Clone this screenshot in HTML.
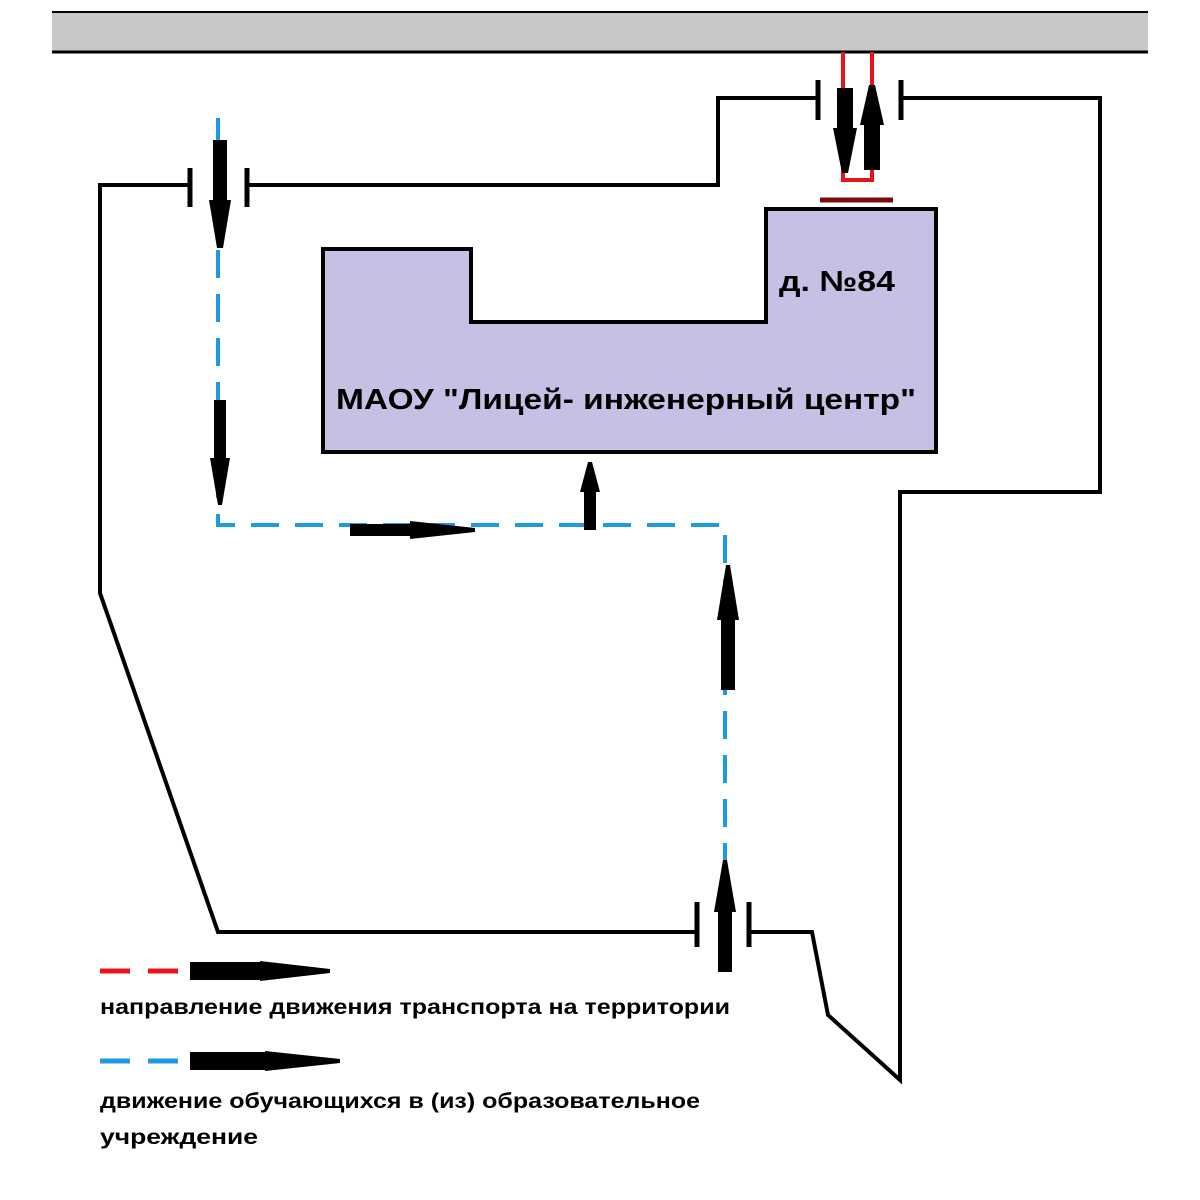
<!DOCTYPE html>
<html><head><meta charset="utf-8"><style>
html,body{margin:0;padding:0;background:#fff;}
svg{display:block;}
text{font-family:"Liberation Sans",sans-serif;font-weight:bold;fill:#000;}
</style></head><body>
<svg width="1200" height="1200" viewBox="0 0 1200 1200" xmlns="http://www.w3.org/2000/svg">
<rect x="52" y="12" width="1096" height="40" fill="#c8c8c8"/>
<line x1="52" y1="12" x2="1148" y2="12" stroke="#000" stroke-width="2"/>
<line x1="52" y1="52" x2="1148" y2="52" stroke="#000" stroke-width="3"/>

<g fill="none" stroke="#000" stroke-width="4" stroke-linejoin="miter">
<polyline points="190,185 100,185 100,593 218,932 697,932"/>
<polyline points="247,185 718,185 718,98 818,98"/>
<polyline points="900,98 1100,98 1100,492 900,492 900,1080 828,1015 812,932 750,932"/>
<line x1="190" y1="168" x2="190" y2="207" stroke-width="5"/>
<line x1="247" y1="168" x2="247" y2="207" stroke-width="5"/>
<line x1="818" y1="80" x2="818" y2="120" stroke-width="5"/>
<line x1="901" y1="80" x2="901" y2="120" stroke-width="5"/>
<line x1="697" y1="902" x2="697" y2="947" stroke-width="5"/>
<line x1="749" y1="902" x2="749" y2="947" stroke-width="5"/>
</g>

<polyline points="843,52 843,180 872,180 872,52" fill="none" stroke="#e8141c" stroke-width="4"/>
<line x1="820" y1="200" x2="893" y2="200" stroke="#7a0c10" stroke-width="5"/>

<polygon points="323,249 471,249 471,322 766,322 766,209 936,209 936,452 323,452" fill="#c8c0e4" stroke="#000" stroke-width="4"/>
<text x="779" y="291" font-size="29" textLength="116" lengthAdjust="spacingAndGlyphs">д. №84</text>
<text x="336" y="409" font-size="29" textLength="580" lengthAdjust="spacingAndGlyphs">МАОУ "Лицей- инженерный центр"</text>

<g fill="none" stroke="#1e9be0" stroke-width="4" stroke-dasharray="28,16">
<polyline points="218,118 218,525 725,525 725,975"/>
</g>

<g fill="#000">
<g transform="translate(220,140) rotate(90)"><polygon points="0,-7 60,-7 60,-11 108,-3 108,3 60,11 60,7 0,7"/></g>
<g transform="translate(220,400) rotate(90)"><polygon points="0,-6 58,-6 58,-10 105,-2 105,2 58,10 58,6 0,6"/></g>
<g transform="translate(350,530)"><polygon points="0,-6 60,-6 60,-9 125,-2 125,2 60,9 60,6 0,6"/></g>
<g transform="translate(590,530) rotate(-90)"><polygon points="0,-6 38,-6 38,-10 68,-2 68,2 38,10 38,6 0,6"/></g>
<g transform="translate(728,690) rotate(-90)"><polygon points="0,-7 70,-7 70,-11 125,-2 125,2 70,11 70,7 0,7"/></g>
<g transform="translate(725,972) rotate(-90)"><polygon points="0,-7 60,-7 60,-11 112,-2 112,2 60,11 60,7 0,7"/></g>
<g transform="translate(845,88) rotate(90)"><polygon points="0,-8 40,-8 40,-12 85,-3 85,3 40,12 40,8 0,8"/></g>
<g transform="translate(872,170) rotate(-90)"><polygon points="0,-8 45,-8 45,-12 85,-3 85,3 45,12 45,8 0,8"/></g>
</g>

<line x1="100" y1="971" x2="192" y2="971" stroke="#e8141c" stroke-width="5" stroke-dasharray="30,18"/>
<g transform="translate(190,971)"><polygon points="0,-9 70,-9 70,-10 140,-2 140,2 70,10 70,9 0,9" fill="#000"/></g>
<text x="100" y="1014" font-size="21" textLength="630" lengthAdjust="spacingAndGlyphs">направление движения транспорта на территории</text>
<line x1="100" y1="1061" x2="192" y2="1061" stroke="#1e9be0" stroke-width="5" stroke-dasharray="30,18"/>
<g transform="translate(190,1061)"><polygon points="0,-9 75,-9 75,-10 150,-2 150,2 75,10 75,9 0,9" fill="#000"/></g>
<text x="100" y="1108" font-size="21" textLength="600" lengthAdjust="spacingAndGlyphs">движение обучающихся в (из) образовательное</text>
<text x="100" y="1144" font-size="21" textLength="158" lengthAdjust="spacingAndGlyphs">учреждение</text>
</svg>
</body></html>
